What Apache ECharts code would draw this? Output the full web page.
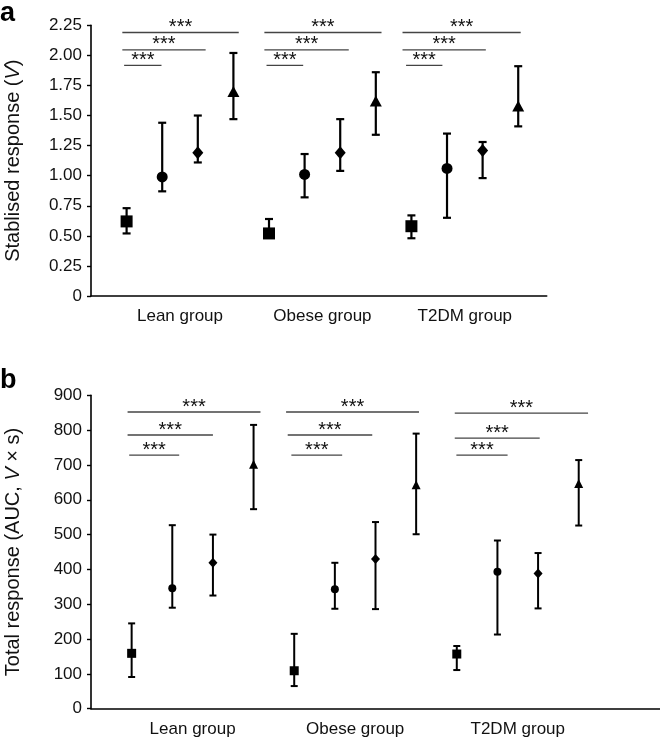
<!DOCTYPE html>
<html>
<head>
<meta charset="utf-8">
<script src="https://cdn.jsdelivr.net/npm/echarts@6/dist/echarts.min.js"></script>
<style>html,body{margin:0;padding:0;background:#fff}#c{width:660px;height:737px}</style>
</head>
<body>
<div id="c"></div>
<script>
// ---- data ----
const groups = ['Lean group', 'Obese group', 'T2DM group'];
const shapes = ['rect', 'circle', 'diamond', 'triangle'];
const groupCenters = [2.5, 6.5, 10.5];
const positions = [1,2,3,4,5,6,7,8,9,10,11,12];

const stabMean = [0.62, 0.99, 1.19, 1.70, 0.52, 1.01, 1.19, 1.62, 0.58, 1.06, 1.21, 1.58];
const stabLow  = [0.52, 0.87, 1.11, 1.47, 0.50, 0.82, 1.04, 1.34, 0.48, 0.65, 0.98, 1.41];
const stabHigh = [0.73, 1.44, 1.50, 2.02, 0.64, 1.18, 1.47, 1.86, 0.67, 1.35, 1.28, 1.91];

const aucMean = [159, 346, 419, 702, 109, 343, 430, 643, 157, 393, 388, 647];
const aucLow  = [ 91, 290, 325, 573,  65, 287, 286, 501, 111, 213, 288, 526];
const aucHigh = [245, 527, 500, 815, 215, 419, 536, 790, 180, 483, 447, 714];

// significance brackets: [xStart, xEnd, y]
const stabBrackets = [
  [0.88, 4.15, 2.19], [0.88, 3.22, 2.045], [0.93, 1.98, 1.917],
  [4.87, 8.16, 2.19], [4.87, 7.24, 2.045], [4.93, 5.96, 1.917],
  [8.75, 12.07, 2.19], [8.75, 11.09, 2.045], [8.85, 9.87, 1.917]
];
const aucBrackets = [
  [0.90, 4.17, 852], [0.90, 3.00, 786], [0.94, 2.17, 728],
  [4.80, 8.07, 852], [4.84, 6.92, 786], [4.93, 6.18, 728],
  [8.95, 12.23, 849], [8.95, 11.04, 777], [8.99, 10.25, 728]
];
const sigText = '***';

// ---- chart ----
const FONT = 'Liberation Sans, Arial, sans-serif';
const chart = echarts.init(document.getElementById('c'), null, {renderer: 'canvas'});

function errData(low, high) { return positions.map((p, i) => [p, low[i], high[i]]); }
function ptData(mean) { return positions.map((p, i) => ({value: [p, mean[i]], symbol: shapes[i % 4]})); }

function errRender(cap, lw) {
  return function (params, api) {
    const x = api.value(0);
    const lo = api.coord([x, api.value(1)]);
    const hi = api.coord([x, api.value(2)]);
    const st = {stroke: '#000', lineWidth: lw};
    return {type: 'group', children: [
      {type: 'line', shape: {x1: lo[0], y1: lo[1], x2: hi[0], y2: hi[1]}, style: st},
      {type: 'line', shape: {x1: lo[0] - cap, y1: lo[1], x2: lo[0] + cap, y2: lo[1]}, style: st},
      {type: 'line', shape: {x1: hi[0] - cap, y1: hi[1], x2: hi[0] + cap, y2: hi[1]}, style: st}
    ]};
  };
}
function bracketRender(params, api) {
  const a = api.coord([api.value(0), api.value(2)]);
  const b = api.coord([api.value(1), api.value(2)]);
  return {type: 'group', children: [
    {type: 'line', shape: {x1: a[0], y1: a[1], x2: b[0], y2: a[1]}, style: {stroke: '#444', lineWidth: 1.3}},
    {type: 'text', x: (a[0] + b[0]) / 2, y: a[1] + 5,
     style: {text: sigText, fill: '#111', font: '20px ' + FONT, align: 'center', verticalAlign: 'bottom'}}
  ]};
}
function symSize(big) {
  return function (val, p) {
    const k = p.dataIndex % 4;
    if (big) return [[12, 12], [11, 11], [11, 13], [12, 11]][k];
    return [[9, 9], [8, 8], [9, 10], [9, 9]][k];
  };
}

const axisLineStyle = {color: '#000', width: 1.6};
const xAxisCommon = {
  type: 'value', min: 0,
  axisLine: {show: true, lineStyle: axisLineStyle},
  axisTick: {show: false},
  splitLine: {show: false},
  axisLabel: {
    customValues: groupCenters,
    formatter: v => groups[Math.round((v - 2.5) / 4)],
    color: '#111', fontFamily: FONT, fontSize: 17, margin: 12
  }
};
const yAxisCommon = {
  type: 'value', min: 0,
  axisLine: {show: true, lineStyle: axisLineStyle},
  axisTick: {show: true, length: 4, lineStyle: {color: '#000', width: 1.4}},
  splitLine: {show: false},
  nameLocation: 'middle',
  nameGap: 68,
  nameRotate: 90,
  nameTextStyle: {color: '#111', fontFamily: FONT, fontSize: 20,
    rich: {i: {fontStyle: 'italic', fontFamily: FONT, fontSize: 20, color: '#111'}}},
  axisLabel: {color: '#111', fontFamily: FONT, fontSize: 17, margin: 9}
};

const option = {
  animation: false,
  backgroundColor: '#fff',
  graphic: [
    {type: 'text', left: 0, top: 0, style: {text: 'a', font: 'bold 27px ' + FONT, fill: '#000'}},
    {type: 'text', left: 0, top: 367, style: {text: 'b', font: 'bold 27px ' + FONT, fill: '#000'}}
  ],
  grid: [
    {left: 91, top: 25.3, width: 455.7, height: 270.7, containLabel: false, outerBoundsMode: 'none'},
    {left: 91, top: 395.3, width: 569, height: 313.4, containLabel: false, outerBoundsMode: 'none'}
  ],
  xAxis: [
    Object.assign({}, xAxisCommon, {gridIndex: 0, max: 12.8}),
    Object.assign({}, xAxisCommon, {gridIndex: 1, max: 14})
  ],
  yAxis: [
    Object.assign({}, yAxisCommon, {gridIndex: 0, max: 2.25, interval: 0.25,
      name: 'Stablised response ({i|V})',
      axisLabel: Object.assign({}, yAxisCommon.axisLabel, {formatter: v => v === 0 ? '0' : v.toFixed(2)})}),
    Object.assign({}, yAxisCommon, {gridIndex: 1, max: 900, interval: 100,
      name: 'Total response (AUC, {i|V} × s)'})
  ],
  series: [
    {type: 'custom', xAxisIndex: 0, yAxisIndex: 0, renderItem: errRender(4, 2.2), data: errData(stabLow, stabHigh), z: 2},
    {type: 'scatter', xAxisIndex: 0, yAxisIndex: 0, data: ptData(stabMean), symbolSize: symSize(true),
      itemStyle: {color: '#000', opacity: 1}, z: 3},
    {type: 'custom', xAxisIndex: 0, yAxisIndex: 0, renderItem: bracketRender, data: stabBrackets, z: 2},
    {type: 'custom', xAxisIndex: 1, yAxisIndex: 1, renderItem: errRender(3.5, 2), data: errData(aucLow, aucHigh), z: 2},
    {type: 'scatter', xAxisIndex: 1, yAxisIndex: 1, data: ptData(aucMean), symbolSize: symSize(false),
      itemStyle: {color: '#000', opacity: 1}, z: 3},
    {type: 'custom', xAxisIndex: 1, yAxisIndex: 1, renderItem: bracketRender, data: aucBrackets, z: 2}
  ]
};
chart.setOption(option);
</script>
</body>
</html>
